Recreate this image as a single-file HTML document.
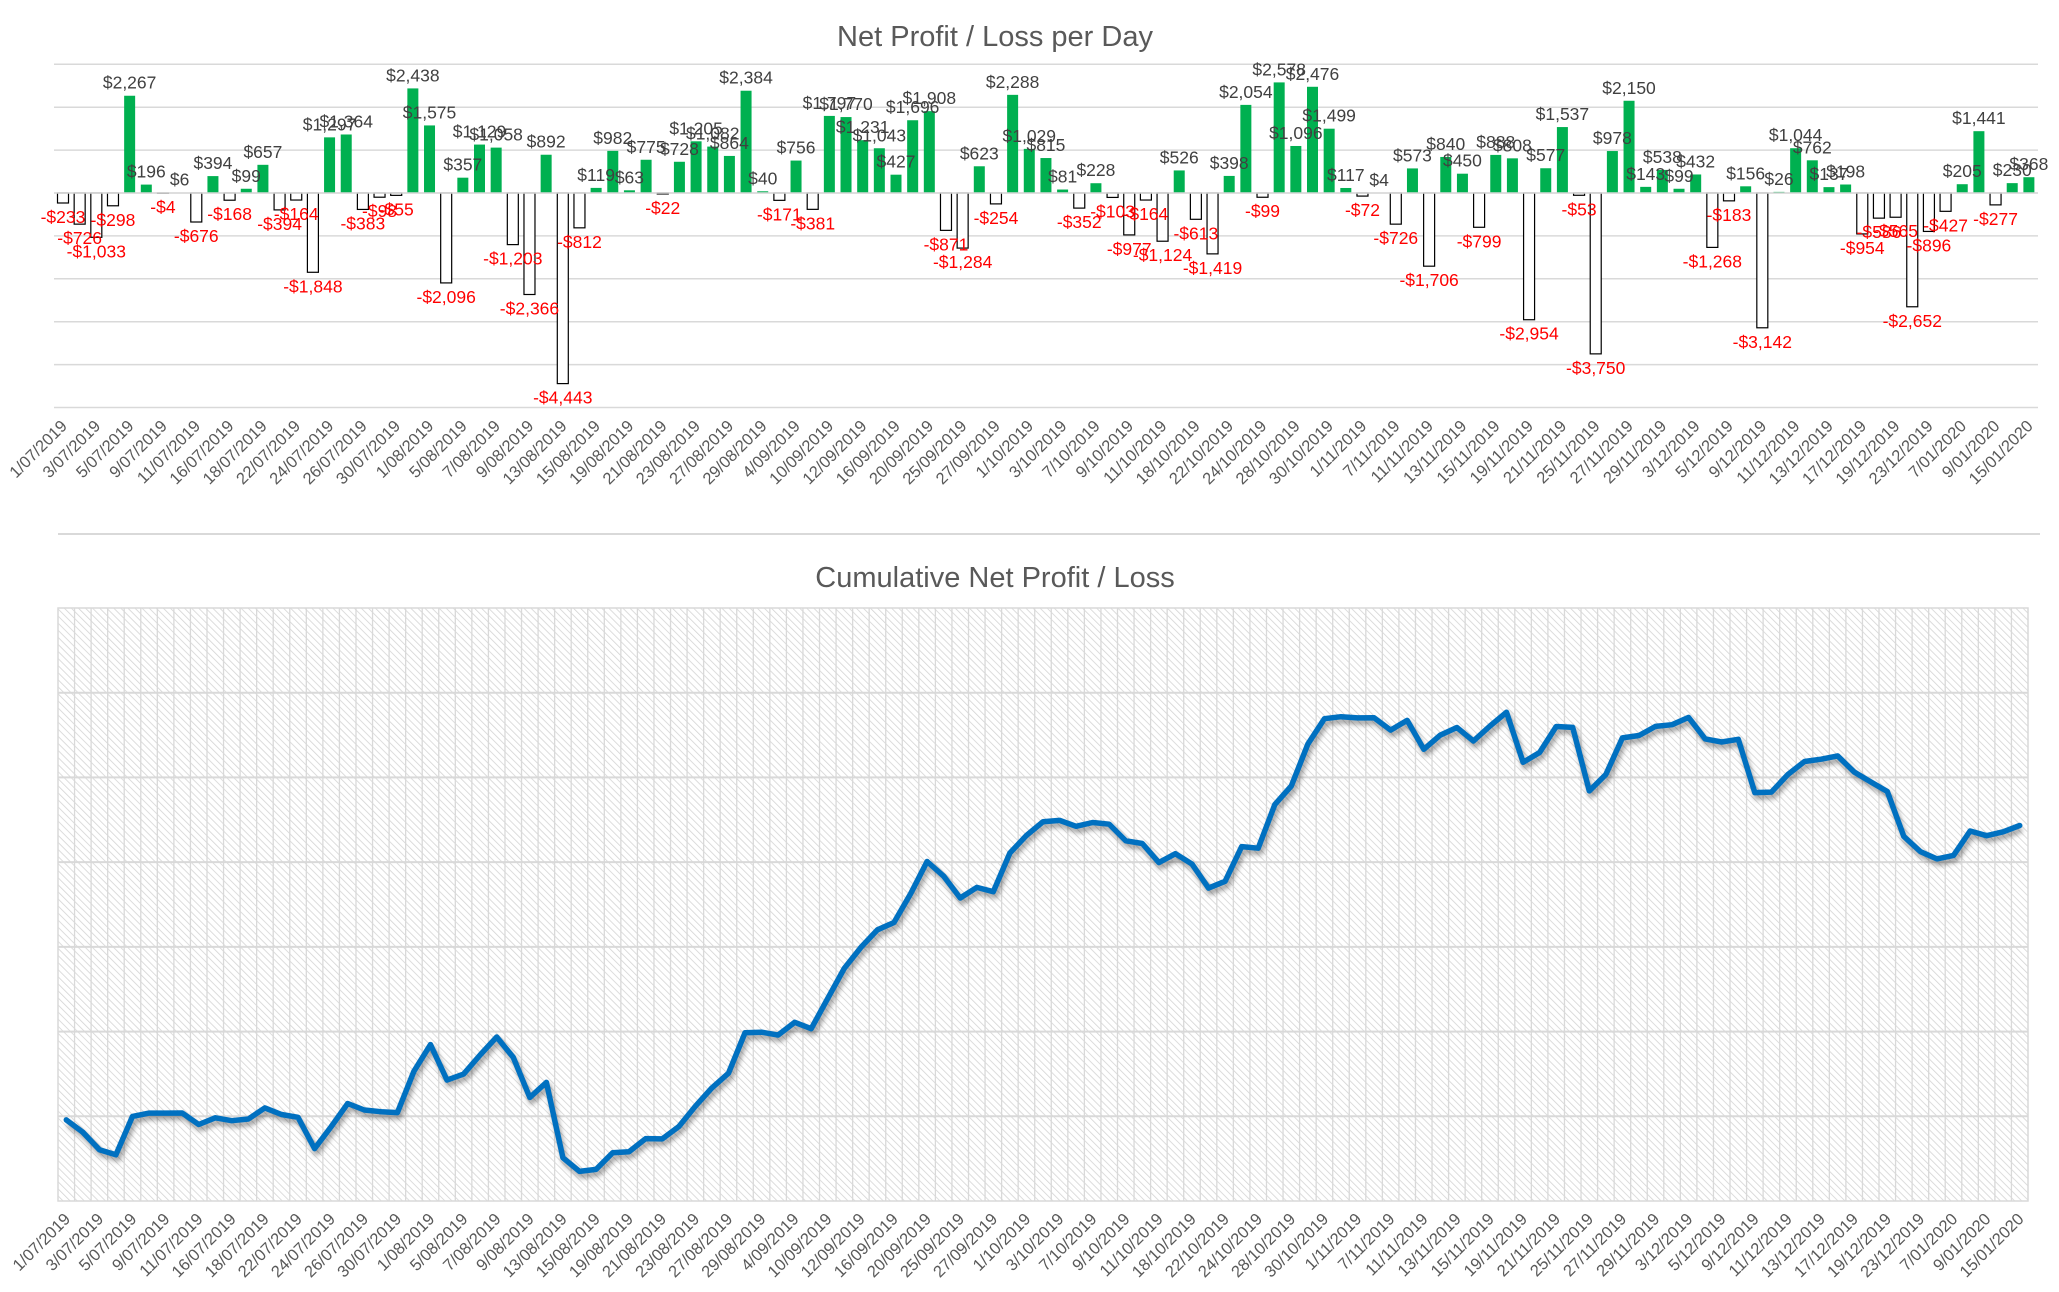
<!DOCTYPE html>
<html><head><meta charset="utf-8"><style>
html,body{margin:0;padding:0;background:#fff}
svg{display:block}
text{font-family:"Liberation Sans",sans-serif}
.t{font-size:29px;fill:#595959}
.d{font-size:17.5px}
.p{fill:#404040}.n{fill:#ff0000}
.x{font-size:16.5px;fill:#595959}
</style></head><body>
<svg id="s" width="2059" height="1292" viewBox="0 0 2059 1292" xmlns="http://www.w3.org/2000/svg">
<defs>
<pattern id="h" width="5" height="5" patternUnits="userSpaceOnUse" patternTransform="rotate(-45)">
<rect width="5" height="5" fill="#fff"/><line x1="0" y1="0" x2="0" y2="5" stroke="#d4d4d4" stroke-width="1.6"/>
</pattern>
<filter id="sh" x="-5%" y="-20%" width="110%" height="140%"><feGaussianBlur stdDeviation="2.5"/></filter>
</defs>
<text class="t" x="995" y="46" text-anchor="middle">Net Profit / Loss per Day</text>
<text class="t" x="995" y="587" text-anchor="middle">Cumulative Net Profit / Loss</text>
<line x1="58" y1="534" x2="2040" y2="534" stroke="#d9d9d9" stroke-width="2"/>
<g id="g1"></g>
<g id="dl">
<text>-$233</text><text>-$726</text><text>-$1,033</text><text>-$298</text><text>$2,267</text><text>$196</text><text>-$4</text><text>$6</text><text>-$676</text><text>$394</text>
<text>-$168</text><text>$99</text><text>$657</text><text>-$394</text><text>-$164</text><text>-$1,848</text><text>$1,297</text><text>$1,364</text><text>-$383</text><text>-$98</text>
<text>-$55</text><text>$2,438</text><text>$1,575</text><text>-$2,096</text><text>$357</text><text>$1,129</text><text>$1,058</text><text>-$1,203</text><text>-$2,366</text><text>$892</text>
<text>-$4,443</text><text>-$812</text><text>$119</text><text>$982</text><text>$63</text><text>$775</text><text>-$22</text><text>$728</text><text>$1,205</text><text>$1,082</text>
<text>$864</text><text>$2,384</text><text>$40</text><text>-$171</text><text>$756</text><text>-$381</text><text>$1,797</text><text>$1,770</text><text>$1,231</text><text>$1,043</text>
<text>$427</text><text>$1,696</text><text>$1,908</text><text>-$871</text><text>-$1,284</text><text>$623</text><text>-$254</text><text>$2,288</text><text>$1,029</text><text>$815</text>
<text>$81</text><text>-$352</text><text>$228</text><text>-$103</text><text>-$977</text><text>-$164</text><text>-$1,124</text><text>$526</text><text>-$613</text><text>-$1,419</text>
<text>$398</text><text>$2,054</text><text>-$99</text><text>$2,578</text><text>$1,096</text><text>$2,476</text><text>$1,499</text><text>$117</text><text>-$72</text><text>$4</text>
<text>-$726</text><text>$573</text><text>-$1,706</text><text>$840</text><text>$450</text><text>-$799</text><text>$888</text><text>$808</text><text>-$2,954</text><text>$577</text>
<text>$1,537</text><text>-$53</text><text>-$3,750</text><text>$978</text><text>$2,150</text><text>$143</text><text>$538</text><text>$99</text><text>$432</text><text>-$1,268</text>
<text>-$183</text><text>$156</text><text>-$3,142</text><text>$26</text><text>$1,044</text><text>$762</text><text>$137</text><text>$198</text><text>-$954</text><text>-$586</text>
<text>-$565</text><text>-$2,652</text><text>-$896</text><text>-$427</text><text>$205</text><text>$1,441</text><text>-$277</text><text>$230</text><text>$368</text>
</g>
<g id="xl">
<text>1/07/2019</text><text>3/07/2019</text><text>5/07/2019</text><text>9/07/2019</text><text>11/07/2019</text><text>16/07/2019</text><text>18/07/2019</text><text>22/07/2019</text><text>24/07/2019</text><text>26/07/2019</text>
<text>30/07/2019</text><text>1/08/2019</text><text>5/08/2019</text><text>7/08/2019</text><text>9/08/2019</text><text>13/08/2019</text><text>15/08/2019</text><text>19/08/2019</text><text>21/08/2019</text><text>23/08/2019</text>
<text>27/08/2019</text><text>29/08/2019</text><text>4/09/2019</text><text>10/09/2019</text><text>12/09/2019</text><text>16/09/2019</text><text>20/09/2019</text><text>25/09/2019</text><text>27/09/2019</text><text>1/10/2019</text>
<text>3/10/2019</text><text>7/10/2019</text><text>9/10/2019</text><text>11/10/2019</text><text>18/10/2019</text><text>22/10/2019</text><text>24/10/2019</text><text>28/10/2019</text><text>30/10/2019</text><text>1/11/2019</text>
<text>7/11/2019</text><text>11/11/2019</text><text>13/11/2019</text><text>15/11/2019</text><text>19/11/2019</text><text>21/11/2019</text><text>25/11/2019</text><text>27/11/2019</text><text>29/11/2019</text><text>3/12/2019</text>
<text>5/12/2019</text><text>9/12/2019</text><text>11/12/2019</text><text>13/12/2019</text><text>17/12/2019</text><text>19/12/2019</text><text>23/12/2019</text><text>7/01/2020</text><text>9/01/2020</text><text>15/01/2020</text>
</g>
<g id="xl2">
<text>1/07/2019</text><text>3/07/2019</text><text>5/07/2019</text><text>9/07/2019</text><text>11/07/2019</text><text>16/07/2019</text><text>18/07/2019</text><text>22/07/2019</text><text>24/07/2019</text><text>26/07/2019</text>
<text>30/07/2019</text><text>1/08/2019</text><text>5/08/2019</text><text>7/08/2019</text><text>9/08/2019</text><text>13/08/2019</text><text>15/08/2019</text><text>19/08/2019</text><text>21/08/2019</text><text>23/08/2019</text>
<text>27/08/2019</text><text>29/08/2019</text><text>4/09/2019</text><text>10/09/2019</text><text>12/09/2019</text><text>16/09/2019</text><text>20/09/2019</text><text>25/09/2019</text><text>27/09/2019</text><text>1/10/2019</text>
<text>3/10/2019</text><text>7/10/2019</text><text>9/10/2019</text><text>11/10/2019</text><text>18/10/2019</text><text>22/10/2019</text><text>24/10/2019</text><text>28/10/2019</text><text>30/10/2019</text><text>1/11/2019</text>
<text>7/11/2019</text><text>11/11/2019</text><text>13/11/2019</text><text>15/11/2019</text><text>19/11/2019</text><text>21/11/2019</text><text>25/11/2019</text><text>27/11/2019</text><text>29/11/2019</text><text>3/12/2019</text>
<text>5/12/2019</text><text>9/12/2019</text><text>11/12/2019</text><text>13/12/2019</text><text>17/12/2019</text><text>19/12/2019</text><text>23/12/2019</text><text>7/01/2020</text><text>9/01/2020</text><text>15/01/2020</text>
</g>
</svg>
<script>
var v=[-233,-726,-1033,-298,2267,196,-4,6,-676,394,-168,99,657,-394,-164,-1848,1297,1364,-383,-98,-55,2438,1575,-2096,357,1129,1058,-1203,-2366,892,-4443,-812,119,982,63,775,-22,728,1205,1082,864,2384,40,-171,756,-381,1797,1770,1231,1043,427,1696,1908,-871,-1284,623,-254,2288,1029,815,81,-352,228,-103,-977,-164,-1124,526,-613,-1419,398,2054,-99,2578,1096,2476,1499,117,-72,4,-726,573,-1706,840,450,-799,888,808,-2954,577,1537,-53,-3750,978,2150,143,538,99,432,-1268,-183,156,-3142,26,1044,762,137,198,-954,-586,-565,-2652,-896,-427,205,1441,-277,230,368];
var g=document.getElementById('g1'),h='';
var Z=193,K=0.0429,X0=63,DX=16.66;
for(var k=3;k>=-5;k--){var y=Z-k*1000*K;h+='<line x1="54" x2="2038" y1="'+y+'" y2="'+y+'" stroke="#d9d9d9" stroke-width="1.5"/>';}
for(var i=0;i<v.length;i++){var x=X0+DX*i,hh=Math.abs(v[i])*K;
 if(v[i]>=0)h+='<rect x="'+(x-5.5)+'" y="'+(Z-hh)+'" width="11" height="'+hh+'" fill="#00b050"/>';
 else h+='<rect x="'+(x-5.5)+'" y="'+Z+'" width="11" height="'+hh+'" fill="#fff" stroke="#000" stroke-width="1.2"/>';}
h+='<line x1="54" x2="2038" y1="'+Z+'" y2="'+Z+'" stroke="#d9d9d9" stroke-width="1.5"/>';
var L=58,R=2028,T=608,B=1201,dx=(R-L)/119;
h+='<rect x="'+L+'" y="'+T+'" width="'+(R-L)+'" height="'+(B-T)+'" fill="url(#h)" stroke="#d9d9d9" stroke-width="1.5"/>';
for(var i=1;i<119;i++){var x=L+dx*i;h+='<line x1="'+x+'" x2="'+x+'" y1="'+T+'" y2="'+B+'" stroke="#d9d9d9" stroke-width="1.3"/>';}
for(var k=1;k<7;k++){var y=T+(B-T)*k/7;h+='<line x1="'+L+'" x2="'+R+'" y1="'+y+'" y2="'+y+'" stroke="#d9d9d9" stroke-width="2"/>';}
var c=0,pts=[],Y0=1116,S=0.01694;
for(var i=0;i<v.length;i++){c+=v[i];pts.push((L+dx*(i+0.5)).toFixed(1)+','+(Y0-c*S).toFixed(1));}
h+='<polyline points="'+pts.join(' ')+'" fill="none" stroke="#000" stroke-opacity="0.35" stroke-width="6" stroke-linejoin="round" filter="url(#sh)" transform="translate(2,4)"/>';
h+='<polyline points="'+pts.join(' ')+'" fill="none" stroke="#0070c0" stroke-width="5.5" stroke-linejoin="round" stroke-linecap="round"/>';
g.innerHTML=h;
var dl=document.getElementById('dl').getElementsByTagName('text');
for(var i=0;i<dl.length;i++){var t=dl[i],x=X0+DX*i,hh=Math.abs(v[i])*K;
 t.setAttribute('x',x);t.setAttribute('text-anchor','middle');
 if(v[i]>=0){t.setAttribute('class','d p');t.setAttribute('y',Z-hh-7);}
 else{t.setAttribute('class','d n');t.setAttribute('y',Z+hh+20);}}
function xl(id,base,x0,d){var a=document.getElementById(id).getElementsByTagName('text');
 for(var j=0;j<a.length;j++){var x=x0+d*2*j+5,y=base;a[j].setAttribute('class','x');a[j].setAttribute('text-anchor','end');
 a[j].setAttribute('transform','translate('+x+','+y+') rotate(-45)');}}
xl('xl',427,X0,DX);
xl('xl2',1220,L+dx*0.5,dx);
</script>
</body></html>
